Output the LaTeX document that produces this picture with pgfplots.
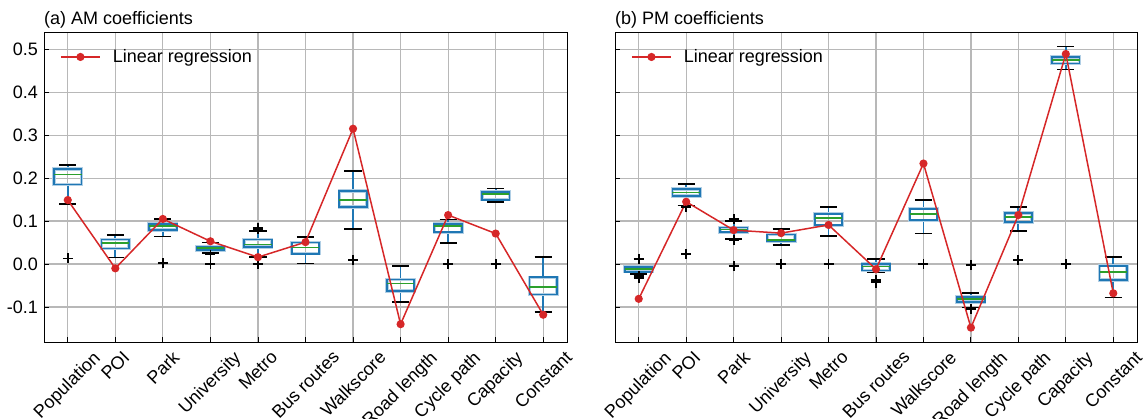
\documentclass[border=0pt]{standalone}
\usepackage{fontspec}
\setmainfont{Liberation Sans}
\usepackage{graphicx}
\usepackage{pgfplots}
\pgfplotsset{compat=1.18}
\usepgfplotslibrary{statistics}
\definecolor{mplblue}{HTML}{1F77B4}
\definecolor{mplgreen}{HTML}{2CA02C}
\definecolor{mplred}{HTML}{D62728}
\definecolor{gridgray}{HTML}{B8B8B8}
\newcommand\R[1]{\rotatebox{45}{#1}}
\newcommand\bx[7]{\addplot[mybox, boxplot prepared={draw position=#1, lower whisker=#2, lower quartile=#3, median=#4, upper quartile=#5, upper whisker=#6}] table[row sep=\\, y index=0] {data\\ #7};}
\pgfplotsset{
  mybox/.style={forget plot, mark=+, mark size=5pt, mark options={black, line width=1.8pt, solid},
    boxplot/draw direction=y,
    boxplot/box extend=0.58,
    boxplot/whisker extend=0.36,
    boxplot/every box/.style={draw=mplblue, line width=1.8pt, preaction={draw=mplblue!35, line width=3.4pt}},
    boxplot/every median/.style={draw=mplgreen, line width=1.5pt},
    boxplot/every whisker/.style={draw=mplblue, line width=1.8pt},
    boxplot/draw/lower whisker/.code={
      \draw[/pgfplots/boxplot/every whisker/.try]
        (boxplot cs:\pgfplotsboxplotvalue{lower whisker}) -- (boxplot cs:\pgfplotsboxplotvalue{lower quartile});
      \draw[black, line width=1.6pt]
        (boxplot whisker cs:\pgfplotsboxplotvalue{lower whisker},0) -- (boxplot whisker cs:\pgfplotsboxplotvalue{lower whisker},1);
    },
    boxplot/draw/upper whisker/.code={
      \draw[/pgfplots/boxplot/every whisker/.try]
        (boxplot cs:\pgfplotsboxplotvalue{upper whisker}) -- (boxplot cs:\pgfplotsboxplotvalue{upper quartile});
      \draw[black, line width=1.6pt]
        (boxplot whisker cs:\pgfplotsboxplotvalue{upper whisker},0) -- (boxplot whisker cs:\pgfplotsboxplotvalue{upper whisker},1);
    },
  },
  lr/.style={mplred, line width=1.5pt, mark=*, mark size=3.3pt, mark options={solid, fill=mplred, draw=mplred}},
  base/.style={
    scale only axis, width=523pt, height=310pt,
    xmin=0.5, xmax=11.5, ymin=-0.1826, ymax=0.539,
    xtick={1,2,3,4,5,6,7,8,9,10,11},
    xticklabels={\R{Population},\R{POI},\R{Park},\R{University},\R{Metro},\R{Bus routes},\R{Walkscore},\R{Road length},\R{Cycle path},\R{Capacity},\R{Constant}},
    ytick={-0.1,0,0.1,0.2,0.3,0.4,0.5},
    xticklabel style={anchor=north, inner sep=0pt, yshift=-7pt},
    yticklabel style={anchor=east, inner sep=0pt, xshift=-6pt},
    grid=major, grid style={color=gridgray, line width=1.2pt},
    tick align=inside, xtick pos=left, ytick pos=left,
    major tick length=5pt, tick style={black, line width=0.9pt},
    axis line style={line width=1pt},
    title style={at={(0,1)}, anchor=base west, inner sep=0pt, yshift=1.5pt},
    legend style={at={(0,1)}, anchor=north west, draw=none, fill=none, xshift=13pt, yshift=-13pt},
    legend image code/.code={\path[draw=none, fill=none] (0pt,0pt) -- (50pt,0pt); \draw[mark repeat=2, mark phase=2] plot coordinates {(0pt,0pt) (19.5pt,0pt) (39pt,0pt)};},
    /pgf/number format/assume math mode=true,
  }
}
\begin{document}
\begin{tikzpicture}[x=1pt, y=1pt, font=\fontsize{18pt}{21.6pt}\selectfont]
\begin{axis}[base, at={(44pt,76.5pt)}, anchor=south west, title={(a) AM coefficients}, yticklabels={-0.1,0.0,0.1,0.2,0.3,0.4,0.5}]
\bx{1}{0.140}{0.185}{0.209}{0.221}{0.231}{0.013\\}
\bx{2}{0.015}{0.036}{0.049}{0.057}{0.068}{}
\bx{3}{0.064}{0.079}{0.088}{0.093}{0.105}{0.002\\}
\bx{4}{0.026}{0.033}{0.037}{0.041}{0.050}{0.022\\ 0.0\\}
\bx{5}{0.017}{0.040}{0.046}{0.057}{0.077}{0.085\\ 0.081\\ 0.0\\}
\bx{6}{0.001}{0.024}{0.038}{0.050}{0.063}{}
\bx{7}{0.082}{0.133}{0.149}{0.170}{0.216}{0.010\\}
\bx{8}{-0.088}{-0.063}{-0.045}{-0.036}{-0.005}{}
\bx{9}{0.049}{0.074}{0.088}{0.093}{0.104}{0.0\\}
\bx{10}{0.145}{0.150}{0.163}{0.168}{0.176}{0.0\\}
\bx{11}{-0.112}{-0.071}{-0.053}{-0.031}{0.016}{}
\addplot[lr] coordinates {(1,0.149) (2,-0.010) (3,0.105) (4,0.053) (5,0.016) (6,0.051) (7,0.315) (8,-0.140) (9,0.114) (10,0.071) (11,-0.118)};
\addlegendentry{Linear regression}
\end{axis}
\begin{axis}[base, at={(615pt,76.5pt)}, anchor=south west, width=522pt, title={(b) PM coefficients}, yticklabels={}]
\bx{1}{-0.023}{-0.018}{-0.012}{-0.007}{-0.005}{0.012\\ -0.028\\ -0.033\\}
\bx{2}{0.136}{0.158}{0.167}{0.175}{0.187}{0.132\\ 0.023\\}
\bx{3}{0.059}{0.074}{0.080}{0.085}{0.100}{0.105\\ 0.056\\ -0.005\\}
\bx{4}{0.045}{0.053}{0.056}{0.069}{0.082}{0.0\\}
\bx{5}{0.065}{0.090}{0.107}{0.117}{0.133}{0.0\\}
\bx{6}{-0.018}{-0.015}{-0.006}{0.0}{0.012}{-0.036\\ -0.040\\ -0.043\\}
\bx{7}{0.071}{0.102}{0.116}{0.129}{0.149}{0.0\\}
\bx{8}{-0.101}{-0.088}{-0.081}{-0.076}{-0.067}{-0.002\\ -0.104\\}
\bx{9}{0.077}{0.097}{0.109}{0.119}{0.133}{0.010\\}
\bx{10}{0.453}{0.467}{0.475}{0.482}{0.506}{0.0\\}
\bx{11}{-0.078}{-0.037}{-0.019}{-0.004}{0.016}{}
\addplot[lr] coordinates {(1,-0.081) (2,0.145) (3,0.079) (4,0.072) (5,0.091) (6,-0.012) (7,0.234) (8,-0.148) (9,0.114) (10,0.489) (11,-0.068)};
\addlegendentry{Linear regression}
\end{axis}
\pgfresetboundingbox
\useasboundingbox (0,0) rectangle (1145pt,419pt);
\end{tikzpicture}
\end{document}
